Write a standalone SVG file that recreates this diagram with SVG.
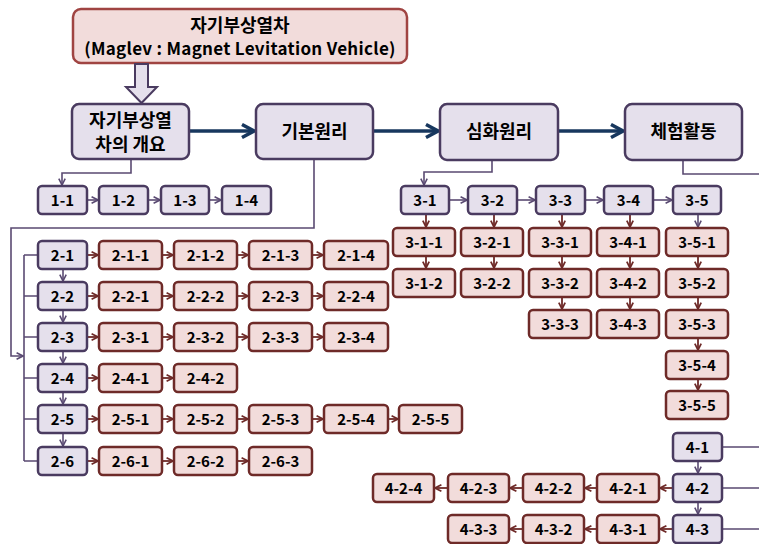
<svg xmlns="http://www.w3.org/2000/svg" width="759" height="544" viewBox="0 0 759 544">
<style>
.p{fill:#e5e0ec;stroke:#4a3b60;stroke-width:2.5}
.r{fill:#f2dcdb;stroke:#6e2a28;stroke-width:2.5}
.t{font-family:"Noto Sans CJK KR","Liberation Sans",sans-serif;font-weight:bold;fill:#000;text-anchor:middle}
.s{font-size:15px}
.b{font-size:18px}
.cp{fill:none;stroke:#5a4a72;stroke-width:1.6}
.cr{fill:none;stroke:#6e2a28;stroke-width:1.8}
.nv{fill:none;stroke:#17375e;stroke-width:3.5}
</style>
<defs>
<marker id="ap" viewBox="0 0 10 10" refX="9" refY="5" markerWidth="8" markerHeight="8" markerUnits="userSpaceOnUse" orient="auto"><path d="M1,1 L9,5 L1,9" fill="none" stroke="#5a4a72" stroke-width="2"/></marker>
<marker id="ar" viewBox="0 0 10 10" refX="9" refY="5" markerWidth="8" markerHeight="8" markerUnits="userSpaceOnUse" orient="auto"><path d="M1,1 L9,5 L1,9" fill="none" stroke="#6e2a28" stroke-width="2.2"/></marker>
<marker id="an" viewBox="0 0 16 16" refX="14" refY="8" markerWidth="16" markerHeight="16" markerUnits="userSpaceOnUse" orient="auto"><path d="M2,1.5 L14,8 L2,14.5" fill="none" stroke="#17375e" stroke-width="3.5"/></marker>
</defs>

<g id="connectors">
<path d="M189,131 L254,131" class="nv" marker-end="url(#an)"/>
<path d="M373,131 L438,131" class="nv" marker-end="url(#an)"/>
<path d="M558,131 L623,131" class="nv" marker-end="url(#an)"/>
<!-- section 1 -->
<path d="M131,159 V173 H62 V185" class="cp" marker-end="url(#ap)"/>
<path d="M87,200 H98" class="cp" marker-end="url(#ap)"/>
<path d="M148,200 H160" class="cp" marker-end="url(#ap)"/>
<path d="M209,200 H221" class="cp" marker-end="url(#ap)"/>
<!-- section 2 -->
<path d="M314,159 V228 H11 V356 H23" class="cp" marker-end="url(#ap)"/>
<path d="M24,255 V461" class="cp"/>
<path d="M24,255 H38 M24,296 H38 M24,337 H38 M24,378 H38 M24,419 H38 M24,461 H38" class="cp"/>
<path d="M63,269 V281" class="cp" marker-end="url(#ap)"/>
<path d="M63,310 V322" class="cp" marker-end="url(#ap)"/>
<path d="M63,351 V363" class="cp" marker-end="url(#ap)"/>
<path d="M63,392 V404" class="cp" marker-end="url(#ap)"/>
<path d="M63,433 V446" class="cp" marker-end="url(#ap)"/>
<g class="cr">
<path d="M87,255 H98" marker-end="url(#ar)"/><path d="M162,255 H173" marker-end="url(#ar)"/><path d="M237,255 H248" marker-end="url(#ar)"/><path d="M312,255 H323" marker-end="url(#ar)"/>
<path d="M87,296 H98" marker-end="url(#ar)"/><path d="M162,296 H173" marker-end="url(#ar)"/><path d="M237,296 H248" marker-end="url(#ar)"/><path d="M312,296 H323" marker-end="url(#ar)"/>
<path d="M87,337 H98" marker-end="url(#ar)"/><path d="M162,337 H173" marker-end="url(#ar)"/><path d="M237,337 H248" marker-end="url(#ar)"/><path d="M312,337 H323" marker-end="url(#ar)"/>
<path d="M87,378 H98" marker-end="url(#ar)"/><path d="M162,378 H173" marker-end="url(#ar)"/>
<path d="M87,419 H98" marker-end="url(#ar)"/><path d="M162,419 H173" marker-end="url(#ar)"/><path d="M237,419 H248" marker-end="url(#ar)"/><path d="M312,419 H323" marker-end="url(#ar)"/><path d="M388,419 H398" marker-end="url(#ar)"/>
<path d="M87,461 H98" marker-end="url(#ar)"/><path d="M162,461 H173" marker-end="url(#ar)"/><path d="M237,461 H248" marker-end="url(#ar)"/>
</g>
<!-- section 3 -->
<path d="M492,160 V172 H424 V185" class="cp" marker-end="url(#ap)"/>
<path d="M449,200 H467" class="cp" marker-end="url(#ap)"/>
<path d="M517,200 H535" class="cp" marker-end="url(#ap)"/>
<path d="M585,200 H603" class="cp" marker-end="url(#ap)"/>
<path d="M653,200 H672" class="cp" marker-end="url(#ap)"/>
<path d="M698,214 V227" class="cp" marker-end="url(#ap)"/>
<g class="cr">
<path d="M426,214 V227" marker-end="url(#ar)"/><path d="M426,256 V268" marker-end="url(#ar)"/>
<path d="M494,214 V227" marker-end="url(#ar)"/><path d="M494,256 V268" marker-end="url(#ar)"/>
<path d="M562,214 V227" marker-end="url(#ar)"/><path d="M562,256 V268" marker-end="url(#ar)"/><path d="M562,297 V309" marker-end="url(#ar)"/>
<path d="M630,214 V227" marker-end="url(#ar)"/><path d="M630,256 V268" marker-end="url(#ar)"/><path d="M630,297 V309" marker-end="url(#ar)"/>
<path d="M698,256 V268" marker-end="url(#ar)"/><path d="M698,297 V309" marker-end="url(#ar)"/><path d="M698,338 V350" marker-end="url(#ar)"/><path d="M698,379 V390" marker-end="url(#ar)"/>
</g>
<!-- section 4 -->
<path d="M683,160 V174 H759" class="cp"/>
<path d="M721,447 H759 M721,488 H759 M721,529 H759" class="cp"/>
<path d="M698,461 V473" class="cp" marker-end="url(#ap)"/>
<path d="M698,502 V514" class="cp" marker-end="url(#ap)"/>
<g class="cr">
<path d="M672,488 H660" marker-end="url(#ar)"/><path d="M597,488 H585" marker-end="url(#ar)"/><path d="M523,488 H510" marker-end="url(#ar)"/><path d="M448,488 H435" marker-end="url(#ar)"/>
<path d="M672,529 H660" marker-end="url(#ar)"/><path d="M597,529 H585" marker-end="url(#ar)"/><path d="M523,529 H510" marker-end="url(#ar)"/>
</g>
</g>

<g id="title">
<rect x="73" y="9" width="334" height="54" rx="8" fill="#f2dcdb" stroke="#a04442" stroke-width="2.5"/>
<text x="240" y="32" class="t b">자기부상열차</text>
<text x="240" y="55" class="t" font-size="17" letter-spacing="0.3">(Maglev : Magnet Levitation Vehicle)</text>
</g>
<g id="bigarrow">
<path d="M135,64 H148 V87 H157 L141.5,103 L126,87 H135 Z" fill="#e5e0ec" stroke="#4a3b60" stroke-width="2"/>
</g>

<g id="n-overview"><rect x="72" y="104" width="117" height="55" rx="7" class="p"/><text x="130.5" y="127" class="t b">자기부상열</text><text x="130.5" y="151" class="t b">차의 개요</text></g>
<g id="n-basic"><rect x="256" y="104" width="117" height="55" rx="7" class="p"/><text x="314.5" y="138" class="t b">기본원리</text></g>
<g id="n-advanced"><rect x="440" y="104" width="118" height="56" rx="7" class="p"/><text x="499" y="138" class="t b">심화원리</text></g>
<g id="n-activity"><rect x="625" y="104" width="117" height="56" rx="7" class="p"/><text x="683.5" y="138" class="t b">체험활동</text></g>

<g id="n-1-1"><rect x="38" y="186" width="49" height="28" rx="4" class="p"/><text x="62.5" y="205.5" class="t s">1-1</text></g>
<g id="n-1-2"><rect x="99" y="186" width="49" height="28" rx="4" class="p"/><text x="123.5" y="205.5" class="t s">1-2</text></g>
<g id="n-1-3"><rect x="161" y="186" width="48" height="28" rx="4" class="p"/><text x="185" y="205.5" class="t s">1-3</text></g>
<g id="n-1-4"><rect x="222" y="186" width="49" height="28" rx="4" class="p"/><text x="246.5" y="205.5" class="t s">1-4</text></g>

<g id="n-2-1"><rect x="38" y="241" width="49" height="28" rx="4" class="p"/><text x="62.5" y="260.5" class="t s">2-1</text></g>
<g id="n-2-2"><rect x="38" y="282" width="49" height="28" rx="4" class="p"/><text x="62.5" y="301.5" class="t s">2-2</text></g>
<g id="n-2-3"><rect x="38" y="323" width="49" height="28" rx="4" class="p"/><text x="62.5" y="342.5" class="t s">2-3</text></g>
<g id="n-2-4"><rect x="38" y="364" width="49" height="28" rx="4" class="p"/><text x="62.5" y="383.5" class="t s">2-4</text></g>
<g id="n-2-5"><rect x="38" y="405" width="49" height="28" rx="4" class="p"/><text x="62.5" y="424.5" class="t s">2-5</text></g>
<g id="n-2-6"><rect x="38" y="447" width="49" height="28" rx="4" class="p"/><text x="62.5" y="466.5" class="t s">2-6</text></g>

<g id="n-2-1-1"><rect x="99" y="241" width="63" height="28" rx="4" class="r"/><text x="130.5" y="260.5" class="t s">2-1-1</text></g>
<g id="n-2-1-2"><rect x="174" y="241" width="63" height="28" rx="4" class="r"/><text x="205.5" y="260.5" class="t s">2-1-2</text></g>
<g id="n-2-1-3"><rect x="249" y="241" width="63" height="28" rx="4" class="r"/><text x="280.5" y="260.5" class="t s">2-1-3</text></g>
<g id="n-2-1-4"><rect x="324" y="241" width="64" height="28" rx="4" class="r"/><text x="356" y="260.5" class="t s">2-1-4</text></g>
<g id="n-2-2-1"><rect x="99" y="282" width="63" height="28" rx="4" class="r"/><text x="130.5" y="301.5" class="t s">2-2-1</text></g>
<g id="n-2-2-2"><rect x="174" y="282" width="63" height="28" rx="4" class="r"/><text x="205.5" y="301.5" class="t s">2-2-2</text></g>
<g id="n-2-2-3"><rect x="249" y="282" width="63" height="28" rx="4" class="r"/><text x="280.5" y="301.5" class="t s">2-2-3</text></g>
<g id="n-2-2-4"><rect x="324" y="282" width="64" height="28" rx="4" class="r"/><text x="356" y="301.5" class="t s">2-2-4</text></g>
<g id="n-2-3-1"><rect x="99" y="323" width="63" height="28" rx="4" class="r"/><text x="130.5" y="342.5" class="t s">2-3-1</text></g>
<g id="n-2-3-2"><rect x="174" y="323" width="63" height="28" rx="4" class="r"/><text x="205.5" y="342.5" class="t s">2-3-2</text></g>
<g id="n-2-3-3"><rect x="249" y="323" width="63" height="28" rx="4" class="r"/><text x="280.5" y="342.5" class="t s">2-3-3</text></g>
<g id="n-2-3-4"><rect x="324" y="323" width="64" height="28" rx="4" class="r"/><text x="356" y="342.5" class="t s">2-3-4</text></g>
<g id="n-2-4-1"><rect x="99" y="364" width="63" height="28" rx="4" class="r"/><text x="130.5" y="383.5" class="t s">2-4-1</text></g>
<g id="n-2-4-2"><rect x="174" y="364" width="63" height="28" rx="4" class="r"/><text x="205.5" y="383.5" class="t s">2-4-2</text></g>
<g id="n-2-5-1"><rect x="99" y="405" width="63" height="28" rx="4" class="r"/><text x="130.5" y="424.5" class="t s">2-5-1</text></g>
<g id="n-2-5-2"><rect x="174" y="405" width="63" height="28" rx="4" class="r"/><text x="205.5" y="424.5" class="t s">2-5-2</text></g>
<g id="n-2-5-3"><rect x="249" y="405" width="63" height="28" rx="4" class="r"/><text x="280.5" y="424.5" class="t s">2-5-3</text></g>
<g id="n-2-5-4"><rect x="324" y="405" width="64" height="28" rx="4" class="r"/><text x="356" y="424.5" class="t s">2-5-4</text></g>
<g id="n-2-5-5"><rect x="399" y="405" width="63" height="28" rx="4" class="r"/><text x="430.5" y="424.5" class="t s">2-5-5</text></g>
<g id="n-2-6-1"><rect x="99" y="447" width="63" height="28" rx="4" class="r"/><text x="130.5" y="466.5" class="t s">2-6-1</text></g>
<g id="n-2-6-2"><rect x="174" y="447" width="63" height="28" rx="4" class="r"/><text x="205.5" y="466.5" class="t s">2-6-2</text></g>
<g id="n-2-6-3"><rect x="249" y="447" width="63" height="28" rx="4" class="r"/><text x="280.5" y="466.5" class="t s">2-6-3</text></g>

<g id="n-3-1"><rect x="401" y="186" width="48" height="28" rx="4" class="p"/><text x="425" y="205.5" class="t s">3-1</text></g>
<g id="n-3-2"><rect x="468" y="186" width="49" height="28" rx="4" class="p"/><text x="492.5" y="205.5" class="t s">3-2</text></g>
<g id="n-3-3"><rect x="536" y="186" width="49" height="28" rx="4" class="p"/><text x="560.5" y="205.5" class="t s">3-3</text></g>
<g id="n-3-4"><rect x="604" y="186" width="49" height="28" rx="4" class="p"/><text x="628.5" y="205.5" class="t s">3-4</text></g>
<g id="n-3-5"><rect x="673" y="186" width="48" height="28" rx="4" class="p"/><text x="697" y="205.5" class="t s">3-5</text></g>

<g id="n-3-1-1"><rect x="393" y="228" width="62" height="28" rx="4" class="r"/><text x="424" y="247.5" class="t s">3-1-1</text></g>
<g id="n-3-1-2"><rect x="393" y="269" width="62" height="28" rx="4" class="r"/><text x="424" y="288.5" class="t s">3-1-2</text></g>
<g id="n-3-2-1"><rect x="461" y="228" width="62" height="28" rx="4" class="r"/><text x="492" y="247.5" class="t s">3-2-1</text></g>
<g id="n-3-2-2"><rect x="461" y="269" width="62" height="28" rx="4" class="r"/><text x="492" y="288.5" class="t s">3-2-2</text></g>
<g id="n-3-3-1"><rect x="529" y="228" width="62" height="28" rx="4" class="r"/><text x="560" y="247.5" class="t s">3-3-1</text></g>
<g id="n-3-3-2"><rect x="529" y="269" width="62" height="28" rx="4" class="r"/><text x="560" y="288.5" class="t s">3-3-2</text></g>
<g id="n-3-3-3"><rect x="529" y="310" width="62" height="28" rx="4" class="r"/><text x="560" y="329.5" class="t s">3-3-3</text></g>
<g id="n-3-4-1"><rect x="597" y="228" width="62" height="28" rx="4" class="r"/><text x="628" y="247.5" class="t s">3-4-1</text></g>
<g id="n-3-4-2"><rect x="597" y="269" width="62" height="28" rx="4" class="r"/><text x="628" y="288.5" class="t s">3-4-2</text></g>
<g id="n-3-4-3"><rect x="597" y="310" width="62" height="28" rx="4" class="r"/><text x="628" y="329.5" class="t s">3-4-3</text></g>
<g id="n-3-5-1"><rect x="666" y="228" width="62" height="28" rx="4" class="r"/><text x="697" y="247.5" class="t s">3-5-1</text></g>
<g id="n-3-5-2"><rect x="666" y="269" width="62" height="28" rx="4" class="r"/><text x="697" y="288.5" class="t s">3-5-2</text></g>
<g id="n-3-5-3"><rect x="666" y="310" width="62" height="28" rx="4" class="r"/><text x="697" y="329.5" class="t s">3-5-3</text></g>
<g id="n-3-5-4"><rect x="666" y="351" width="62" height="28" rx="4" class="r"/><text x="697" y="370.5" class="t s">3-5-4</text></g>
<g id="n-3-5-5"><rect x="666" y="391" width="62" height="28" rx="4" class="r"/><text x="697" y="410.5" class="t s">3-5-5</text></g>

<g id="n-4-1"><rect x="673" y="433" width="49" height="28" rx="4" class="p"/><text x="697.5" y="452.5" class="t s">4-1</text></g>
<g id="n-4-2"><rect x="673" y="474" width="49" height="28" rx="4" class="p"/><text x="697.5" y="493.5" class="t s">4-2</text></g>
<g id="n-4-3"><rect x="673" y="515" width="49" height="28" rx="4" class="p"/><text x="697.5" y="534.5" class="t s">4-3</text></g>

<g id="n-4-2-1"><rect x="597" y="474" width="62" height="28" rx="4" class="r"/><text x="628" y="493.5" class="t s">4-2-1</text></g>
<g id="n-4-2-2"><rect x="523" y="474" width="61" height="28" rx="4" class="r"/><text x="553.5" y="493.5" class="t s">4-2-2</text></g>
<g id="n-4-2-3"><rect x="448" y="474" width="61" height="28" rx="4" class="r"/><text x="478.5" y="493.5" class="t s">4-2-3</text></g>
<g id="n-4-2-4"><rect x="373" y="474" width="61" height="28" rx="4" class="r"/><text x="403.5" y="493.5" class="t s">4-2-4</text></g>
<g id="n-4-3-1"><rect x="597" y="515" width="62" height="28" rx="4" class="r"/><text x="628" y="534.5" class="t s">4-3-1</text></g>
<g id="n-4-3-2"><rect x="523" y="515" width="61" height="28" rx="4" class="r"/><text x="553.5" y="534.5" class="t s">4-3-2</text></g>
<g id="n-4-3-3"><rect x="448" y="515" width="61" height="28" rx="4" class="r"/><text x="478.5" y="534.5" class="t s">4-3-3</text></g>
</svg>
